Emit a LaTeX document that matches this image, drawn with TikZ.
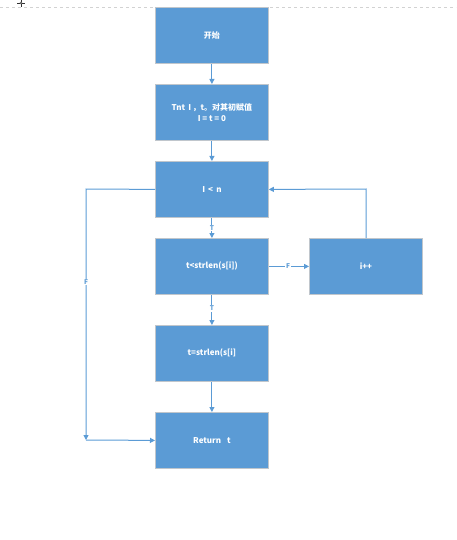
\documentclass[tikz,border=0pt]{standalone}
\usepackage{fontspec}
\setmainfont{Noto Sans CJK SC}
\usetikzlibrary{arrows.meta}
\definecolor{boxblue}{HTML}{5B9BD5}
\definecolor{boxedge}{HTML}{C0C6CC}
\definecolor{lineblue}{HTML}{5B9BD5}
\begin{document}
\begin{tikzpicture}[x=1pt,y=-1pt,
  flowbox/.style={draw=boxedge,line width=0.8pt,fill=boxblue,minimum width=113pt,minimum height=56pt,inner sep=0pt,
    text=white,font=\fontsize{8}{11}\selectfont\bfseries,align=center,anchor=north west},
  conn/.style={draw=lineblue,line width=1pt,line join=miter,-{Triangle[length=5pt,width=5pt]}},
  lbl/.style={fill=white,inner sep=0.8pt,text=lineblue,font=\fontsize{6.5}{7}\selectfont\bfseries}]
\useasboundingbox (0,0) rectangle (456,540);
% page guide line and cursor
\draw[gray!35,dashed,line width=0.5pt] (0,7) -- (456,7);
\draw[black!80,line width=0.6pt] (17,3) -- (25,3) (21,0) -- (21,7);
\node[draw=black!80,line width=0.5pt,circle,inner sep=0.8pt,fill=white] (cursor) at (21,3) {};
% boxes
\node[flowbox] (start) at (155,7) {开始};
\node[flowbox] (init) at (155,84) {Tnt \,I\,，t。对其初赋值\\I = t = 0};
\node[flowbox] (cond) at (155,161) {I \,<\, n};
\node[flowbox] (tcmp) at (155,238) {t<strlen(s[i])};
\node[flowbox] (inc) at (309,238) {i++};
\node[flowbox] (tset) at (155,325) {t=strlen(s[i]};
\node[flowbox] (ret) at (155,412) {Return \; t};
% connectors
\draw[conn] (start) -- (init);
\draw[conn] (init) -- (cond);
\draw[conn] (cond) -- node[lbl,pos=0.5] {T} (tcmp);
\draw[conn] (tcmp) -- node[lbl,pos=0.48] {F} (inc);
\draw[conn] (tcmp) -- node[lbl,pos=0.45] {T} (tset);
\draw[conn] (tset) -- (ret);
\coordinate (loopc) at (366,189);
\draw[conn] (inc.north -| loopc) -- (loopc) -- (cond.east);
\coordinate (leftc) at (86,189);
\coordinate (leftb) at (86,440);
\draw[conn] (cond.west) -- (leftc) -- node[lbl,pos=0.37] {F} (leftb);
\draw[conn] (leftb) -- (ret.west);
\end{tikzpicture}
\end{document}
